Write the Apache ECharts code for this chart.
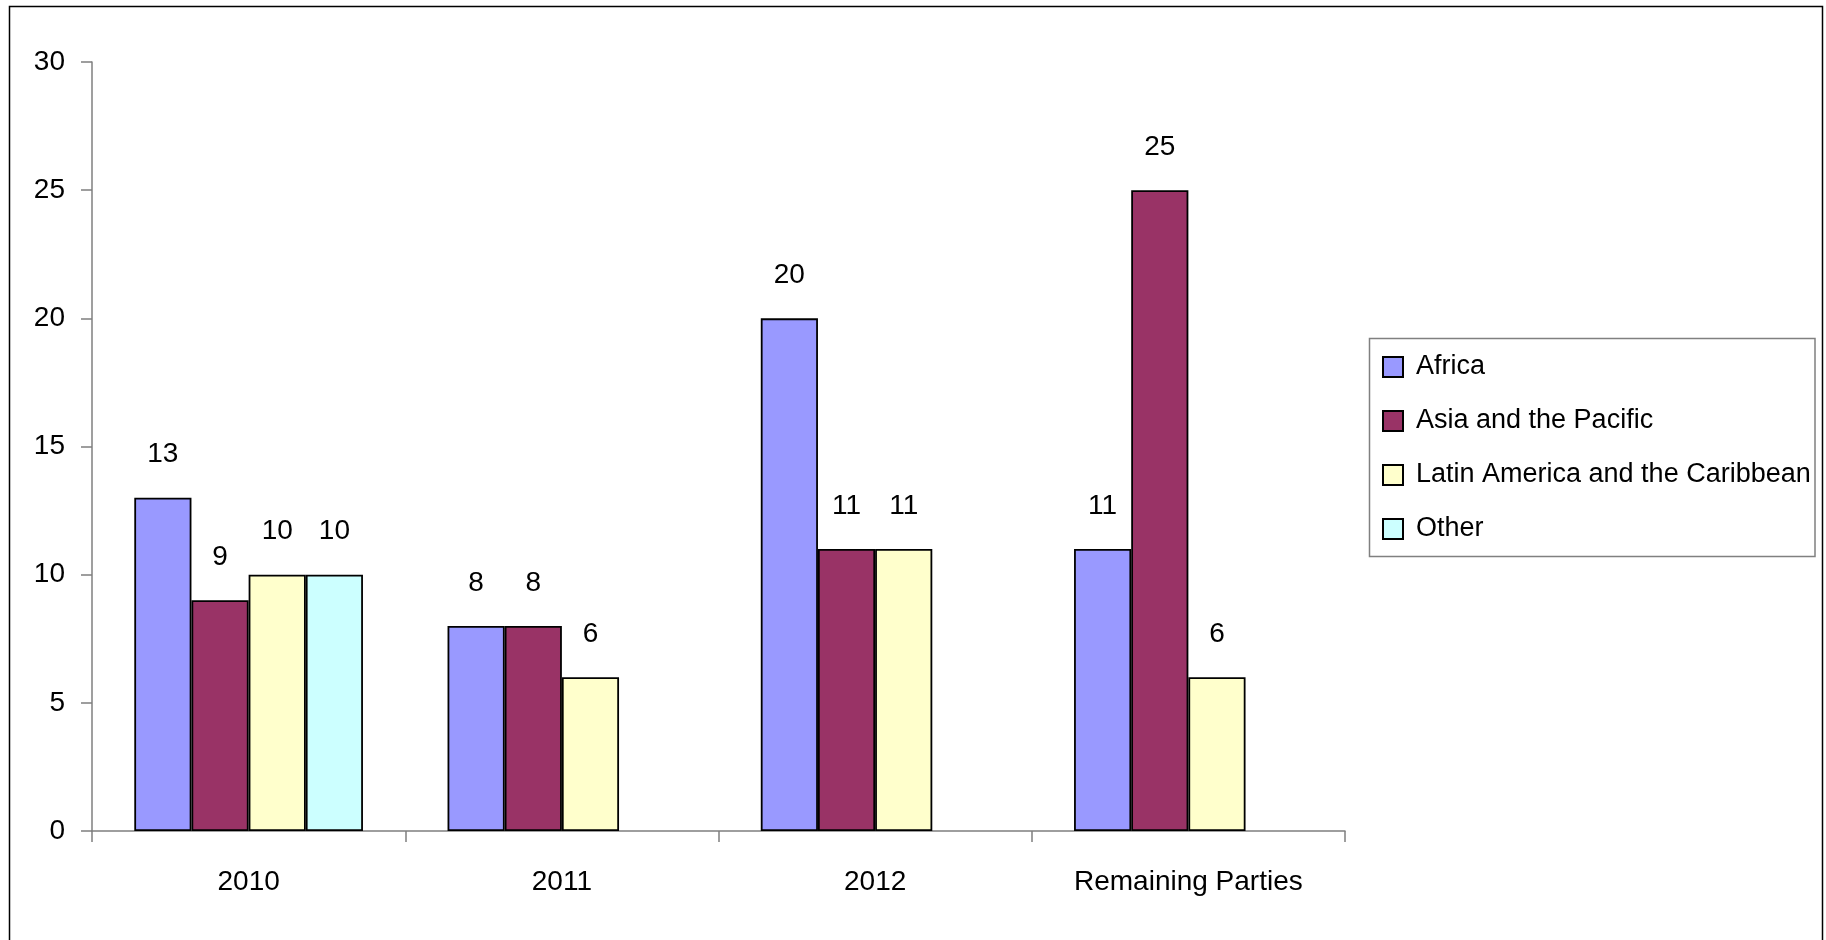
<!DOCTYPE html>
<html>
<head>
<meta charset="utf-8">
<script src="https://cdn.jsdelivr.net/npm/echarts@6/dist/echarts.min.js"></script>
<style>
html,body{margin:0;padding:0;background:#fff;}
#c{width:1826px;height:940px;}
</style>
</head>
<body>
<div id="c"></div>
<script>
const categories = ['2010', '2011', '2012', 'Remaining Parties'];
const africa = [13, 8, 20, 11];
const asiaPacific = [9, 8, 11, 25];
const latinAmerica = [10, 6, 11, 6];
const other = [10, null, null, null];
const seriesNames = ['Africa', 'Asia and the Pacific', 'Latin America and the Caribbean', 'Other'];
const seriesColors = ['#9999FF', '#993366', '#FFFFCC', '#CCFFFF'];
const yTicks = { min: 0, max: 30, interval: 5 };

const FONT = '"Liberation Sans Narrow", "Arial Narrow", "Liberation Sans", Arial, sans-serif';
const values = [africa, asiaPacific, latinAmerica, other];

const chart = echarts.init(document.getElementById('c'), null, { renderer: 'canvas' });
chart.setOption({
  animation: false,
  backgroundColor: '#fff',
  textStyle: { fontFamily: FONT },
  graphic: [{
    type: 'rect',
    shape: { x: 9.5, y: 6.5, width: 1813, height: 1000 },
    style: { fill: 'none', stroke: '#000', lineWidth: 1.5 },
    silent: true, z: 100
  }, {
    type: 'rect',
    shape: { x: 1369.5, y: 338.5, width: 445.5, height: 218 },
    style: { fill: 'none', stroke: '#808080', lineWidth: 1.5 },
    silent: true, z: 100
  }],
  grid: { left: 92, right: 481, top: 62, bottom: 109, containLabel: false },
  legend: {
    orient: 'vertical',
    left: 1382,
    top: 352,
    padding: 0,
    itemWidth: 20,
    itemHeight: 20,
    itemGap: 24,
    icon: 'rect',
    textStyle: { fontFamily: FONT, fontSize: 27, color: '#000', padding: [0, 0, 0, 8], lineHeight: 30 },
    data: seriesNames
  },
  xAxis: {
    type: 'category',
    data: categories,
    axisLine: { lineStyle: { color: '#7f7f7f', width: 1.5 } },
    axisTick: { show: true, length: 11, inside: false, interval: 0, lineStyle: { color: '#7f7f7f', width: 1.5 } },
    axisLabel: { fontFamily: FONT, fontSize: 28, color: '#000', margin: 37, interval: 0 },
    splitLine: { show: false }
  },
  yAxis: {
    type: 'value',
    min: yTicks.min, max: yTicks.max, interval: yTicks.interval,
    axisLine: { show: true, lineStyle: { color: '#7f7f7f', width: 1.5 } },
    axisTick: { show: true, length: 11, lineStyle: { color: '#7f7f7f', width: 1.5 } },
    axisLabel: { fontFamily: FONT, fontSize: 28, color: '#000', margin: 27 },
    splitLine: { show: false }
  },
  series: values.map((v, i) => ({
    name: seriesNames[i],
    type: 'bar',
    data: v,
    barGap: '0%',
    barCategoryGap: '27%',
    itemStyle: { color: seriesColors[i], borderColor: '#000', borderWidth: 1.8 },
    label: {
      show: true, position: 'top', distance: 29,
      fontFamily: FONT, fontSize: 28, color: '#000'
    }
  }))
});
</script>
</body>
</html>
